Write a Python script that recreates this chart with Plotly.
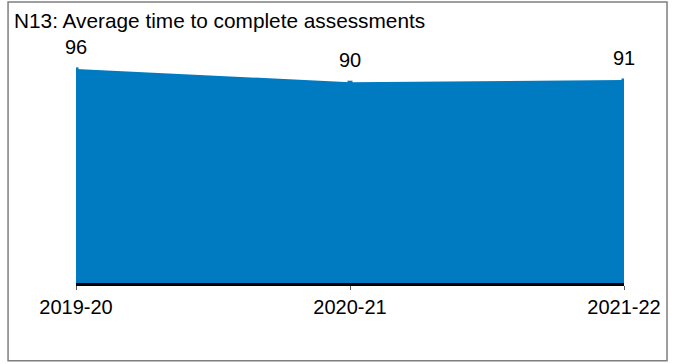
"""Area chart: N13 average time to complete assessments."""

import plotly.graph_objects as go

years = ["2019-20", "2020-21", "2021-22"]
avg_days = [96, 90, 91]

title_text = "N13: Average time to complete assessments"
blue = "#007AC0"
font_family = "Arial, Liberation Sans, sans-serif"

fig = go.Figure()

fig.add_trace(
	go.Scatter(
		x=years,
		y=avg_days,
		mode="lines+markers",
		fill="tozeroy",
		fillcolor=blue,
		line=dict(color=blue, width=2),
		marker=dict(symbol="square", size=5, color=blue),
		hoverinfo="x+y",
		showlegend=False,
	)
)

# value labels above each point
for yr, val in zip(years, avg_days):
	fig.add_annotation(
		x=yr,
		y=val,
		text=str(val),
		showarrow=False,
		yanchor="bottom",
		yshift=10,
		font=dict(size=20, color="black", family=font_family),
	)

fig.add_annotation(
	xref="paper",
	yref="paper",
	x=-0.117,
	y=1.183,
	xanchor="left",
	yanchor="middle",
	text=title_text,
	showarrow=False,
	font=dict(size=20.8, color="black", family=font_family),
)

# outer frame round the whole chart
fig.add_shape(
	type="rect",
	xref="paper",
	yref="paper",
	x0=-0.124,
	x1=1.0785,
	y0=-0.35,
	y1=1.266,
	line=dict(color="#7f7f7f", width=1.5),
	fillcolor="rgba(0,0,0,0)",
	layer="below",
)

fig.update_layout(
	width=676,
	height=364,
	margin=dict(l=76, r=52, t=61, b=81),
	paper_bgcolor="white",
	plot_bgcolor="white",
	font=dict(family=font_family, size=20, color="black"),
	xaxis=dict(
		type="category",
		range=[0, 2],
		showgrid=False,
		zeroline=False,
		showline=True,
		linecolor="black",
		linewidth=2.5,
		ticks="outside",
		ticklen=4,
		tickwidth=1,
		tickcolor="#595959",
		tickfont=dict(size=20),
	),
	yaxis=dict(
		range=[0, 100],
		visible=False,
		showgrid=False,
		zeroline=False,
	),
)

# drop the page's default body margin so the chart sits at the window's corner
fig.write_html(
	"out.html",
	config={"displayModeBar": False},
	post_script="document.body.style.margin='0';",
)
